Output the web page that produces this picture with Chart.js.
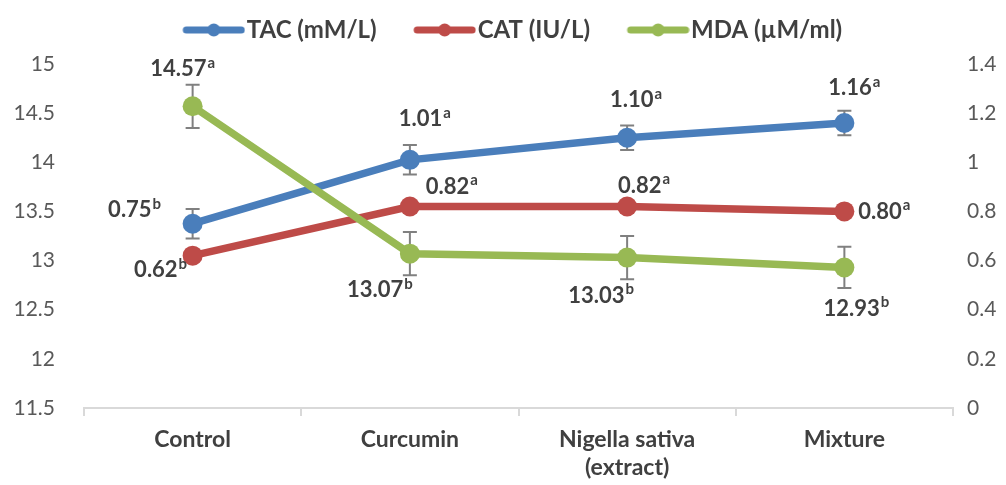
<!DOCTYPE html>
<html>
<head>
<meta charset="utf-8">
<script src="https://cdn.jsdelivr.net/npm/chart.js@4.4.0/dist/chart.umd.min.js"></script>
<style>
  html, body { margin: 0; padding: 0; background: #fff; }
  #wrap { width: 1006px; height: 485px; }
</style>
</head>
<body>
<div id="wrap"><canvas id="myChart" width="1006" height="485"></canvas></div>
<script>
const categories = ['Control', 'Curcumin', ['Nigella sativa', '(extract)'], 'Mixture'];

const tacValues = [0.75, 1.01, 1.10, 1.16];
const tacErrors = [0.06, 0.06, 0.05, 0.05];
const tacLetters = ['b', 'a', 'a', 'a'];

const catValues = [0.62, 0.82, 0.82, 0.80];
const catLetters = ['b', 'a', 'a', 'a'];

const mdaValues = [14.57, 13.07, 13.03, 12.93];
const mdaErrors = [0.22, 0.22, 0.22, 0.21];
const mdaLetters = ['a', 'b', 'b', 'b'];

const leftTicks = { min: 11.5, max: 15, step: 0.5 };
const rightTicks = { min: 0, max: 1.4, step: 0.2 };

// where each value label sits, relative to its point (pixels)
const labelOffsets = {
  tac: [[-58, -14], [15, -41], [9, -38], [10, -35]],
  cat: [[-32, 14], [42, -20], [17, -21], [40, 0]],
  mda: [[-10, -37], [-30, 36], [-26, 38], [12, 41]],
};

const BLUE = '#4A7EBB';
const RED = '#BE4B48';
const GREEN = '#98B954';
const TEXT = '#404040';
const FONT = 'Lato, "Open Sans", sans-serif';

// legend marker: thick line with a dot, drawn towards the right of a wide canvas
function legendIcon(color) {
  const c = document.createElement('canvas');
  c.width = 92;
  c.height = 16;
  const g = c.getContext('2d');
  g.strokeStyle = color;
  g.lineWidth = 7;
  g.lineCap = 'round';
  g.beginPath();
  g.moveTo(33, 8);
  g.lineTo(88, 8);
  g.stroke();
  g.fillStyle = color;
  g.beginPath();
  g.arc(60.5, 8, 6.5, 0, Math.PI * 2);
  g.fill();
  return c;
}

const errorBars = {
  id: 'errorBars',
  beforeDatasetsDraw(chart) {
    const ctx = chart.ctx;
    ctx.save();
    ctx.strokeStyle = '#808080';
    ctx.lineWidth = 2;
    chart.data.datasets.forEach((ds, i) => {
      if (!ds.errors) return;
      const meta = chart.getDatasetMeta(i);
      const scale = chart.scales[ds.yAxisID];
      meta.data.forEach((pt, j) => {
        const top = scale.getPixelForValue(ds.data[j] + ds.errors[j]);
        const bot = scale.getPixelForValue(ds.data[j] - ds.errors[j]);
        ctx.beginPath();
        ctx.moveTo(pt.x, top);
        ctx.lineTo(pt.x, bot);
        ctx.moveTo(pt.x - 7, top);
        ctx.lineTo(pt.x + 7, top);
        ctx.moveTo(pt.x - 7, bot);
        ctx.lineTo(pt.x + 7, bot);
        ctx.stroke();
      });
    });
    ctx.restore();
  },
};

const valueLabels = {
  id: 'valueLabels',
  afterDatasetsDraw(chart) {
    const ctx = chart.ctx;
    ctx.save();
    ctx.fillStyle = TEXT;
    ctx.textBaseline = 'middle';
    chart.data.datasets.forEach((ds, i) => {
      const meta = chart.getDatasetMeta(i);
      meta.data.forEach((pt, j) => {
        const main = ds.data[j].toFixed(2);
        const sup = ds.letters[j];
        ctx.font = 'bold 22px ' + FONT;
        const w1 = ctx.measureText(main).width;
        ctx.font = 'bold 15px ' + FONT;
        const w2 = ctx.measureText(sup).width;
        const [dx, dy] = ds.offsets[j];
        const cx = pt.x + dx;
        const cy = pt.y + dy;
        const x0 = cx - (w1 + w2 + 1) / 2;
        ctx.font = 'bold 22px ' + FONT;
        ctx.textAlign = 'left';
        ctx.fillText(main, x0, cy);
        ctx.font = 'bold 15px ' + FONT;
        ctx.fillText(sup, x0 + w1 + 1, cy - 6);
      });
    });
    ctx.restore();
  },
};

const ctx = document.getElementById('myChart').getContext('2d');
const chart = new Chart(ctx, {
  type: 'line',
  data: {
    labels: categories,
    datasets: [
      {
        label: 'TAC (mM/L)',
        data: tacValues,
        errors: tacErrors,
        letters: tacLetters,
        offsets: labelOffsets.tac,
        yAxisID: 'y1',
        borderColor: BLUE,
        backgroundColor: BLUE,
        legendIcon: legendIcon(BLUE),
        order: 1,
      },
      {
        label: 'CAT (IU/L)',
        data: catValues,
        letters: catLetters,
        offsets: labelOffsets.cat,
        yAxisID: 'y1',
        borderColor: RED,
        backgroundColor: RED,
        legendIcon: legendIcon(RED),
        order: 2,
      },
      {
        label: 'MDA (µM/ml)',
        data: mdaValues,
        errors: mdaErrors,
        letters: mdaLetters,
        offsets: labelOffsets.mda,
        yAxisID: 'y',
        borderColor: GREEN,
        backgroundColor: GREEN,
        legendIcon: legendIcon(GREEN),
        order: 0,
      },
    ],
  },
  options: {
    responsive: false,
    animation: false,
    layout: { padding: { top: 0, left: 0, right: 0, bottom: 0 } },
    elements: {
      line: { borderWidth: 7.5, tension: 0, borderCapStyle: 'round' },
      point: { pointStyle: 'circle', radius: 10, hoverRadius: 10, borderWidth: 0 },
    },
    plugins: {
      tooltip: { enabled: false },
      legend: {
        position: 'top',
        labels: {
          usePointStyle: true,
          pointStyleWidth: 71,
          padding: 18,
          color: TEXT,
          font: { family: FONT, size: 24, weight: 'bold' },
          generateLabels(chart) {
            return chart.data.datasets.map((ds, i) => ({
              text: ds.label,
              fillStyle: ds.borderColor,
              strokeStyle: ds.borderColor,
              pointStyle: ds.legendIcon,
              fontColor: TEXT,
              lineWidth: 0,
              hidden: false,
              datasetIndex: i,
            }));
          },
        },
      },
    },
    scales: {
      x: {
        offset: true,
        grid: {
          offset: true,
          drawOnChartArea: false,
          drawTicks: true,
          tickLength: 8,
          color: '#D9D9D9',
          lineWidth: 2,
        },
        border: { display: true, color: '#D9D9D9', width: 2 },
        ticks: {
          color: TEXT,
          padding: 10,
          font: { family: FONT, size: 23, weight: 'bold' },
          maxRotation: 0,
        },
        afterFit(s) { s.height = 77; },
      },
      y: {
        position: 'left',
        min: leftTicks.min,
        max: leftTicks.max,
        grid: { display: false },
        border: { display: false },
        ticks: {
          stepSize: leftTicks.step,
          color: '#595959',
          padding: 21,
          font: { family: FONT, size: 21 },
          callback: (v) => String(Math.round(v * 10) / 10),
        },
        afterFit(s) { s.width = 84; },
      },
      y1: {
        position: 'right',
        min: rightTicks.min,
        max: rightTicks.max,
        grid: { display: false },
        border: { display: false },
        ticks: {
          stepSize: rightTicks.step,
          color: '#595959',
          padding: 6,
          font: { family: FONT, size: 21 },
          callback: (v) => String(Math.round(v * 10) / 10),
        },
        afterFit(s) { s.width = 53; },
      },
    },
  },
  plugins: [errorBars, valueLabels],
});

// leave a little more room between the legend and the plot
const legendFit = chart.legend.fit;
chart.legend.fit = function () {
  legendFit.call(this);
  this.height += 12;
};
chart.update();
</script>
</body>
</html>
